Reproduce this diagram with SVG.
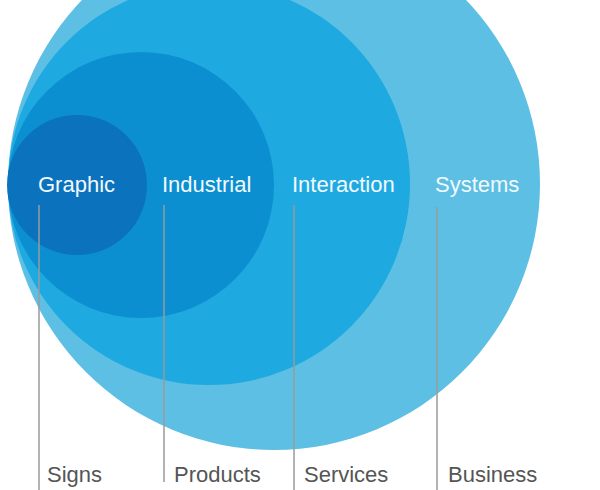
<svg xmlns="http://www.w3.org/2000/svg" width="600" height="490" viewBox="0 0 600 490">
<style>
.lbl{font-family:"Liberation Sans",Arial,sans-serif;font-size:22px;fill:#f2f9fd}
.sub{font-family:"Liberation Sans",Arial,sans-serif;font-size:22px;fill:#555555}
.ln{stroke:#9a9a9a;stroke-width:1.5;fill:none}
</style>
<rect width="600" height="490" fill="#ffffff"/>
<g id="systems"><circle cx="274" cy="184" r="266" fill="#5cbfe3"/></g>
<g id="interaction"><circle cx="209" cy="184" r="201" fill="#1ea9e1"/></g>
<g id="industrial"><circle cx="141" cy="185" r="133" fill="#0b8fd0"/></g>
<g id="graphic"><circle cx="77" cy="185" r="70" fill="#0b73bd"/></g>
<g id="connectors">
<line class="ln" x1="39" y1="205" x2="39" y2="490"/>
<line class="ln" x1="164" y1="205" x2="164" y2="482"/>
<line class="ln" x1="294" y1="205" x2="294" y2="490"/>
<line class="ln" x1="437" y1="207" x2="437" y2="490"/>
</g>
<g id="labels">
<text class="lbl" x="38" y="192">Graphic</text>
<text class="lbl" x="162" y="192">Industrial</text>
<text class="lbl" x="292" y="192">Interaction</text>
<text class="lbl" x="435" y="192">Systems</text>
</g>
<g id="sublabels">
<text class="sub" x="47" y="482">Signs</text>
<text class="sub" x="174" y="482">Products</text>
<text class="sub" x="304" y="482">Services</text>
<text class="sub" x="448" y="482">Business</text>
</g>
</svg>
